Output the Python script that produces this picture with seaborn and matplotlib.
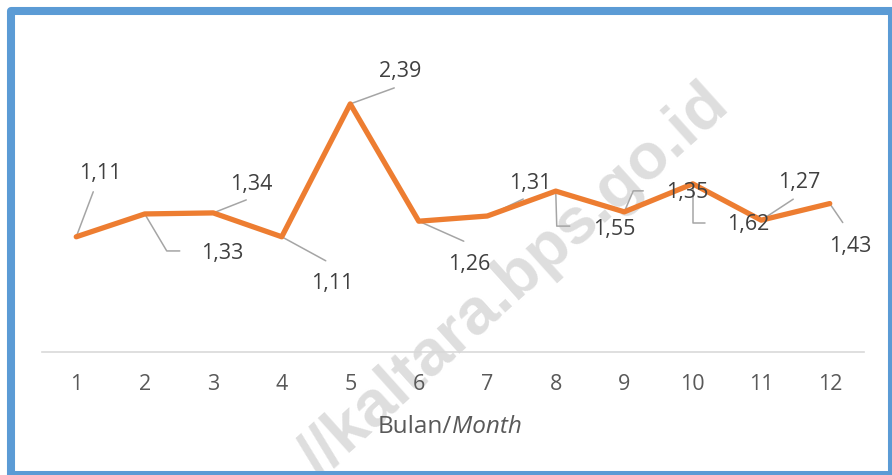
import matplotlib
matplotlib.use('Agg')
import matplotlib.pyplot as plt
import matplotlib.transforms as mtransforms
from matplotlib.lines import Line2D
from matplotlib.patches import Rectangle
import seaborn as sns

# Data (monthly values)
months = list(range(1, 13))
values = [1.11, 1.33, 1.34, 1.11, 2.39, 1.26, 1.31, 1.55, 1.35, 1.62, 1.27, 1.43]
month_labels = [str(m) for m in months]
value_labels = [f"{v:.2f}".replace('.', ',') for v in values]

# Label placement (pixel offsets from each point, y up) and leader line shapes
label_offsets = [(24, 65), (77, -38), (38, 30), (50, -45), (50, 34), (50, -41),
                 (43, 35), (58, -36), (63, 21), (55, -39), (38, 40), (20, -41)]
leader_paths = [
    [(0, 0), (17, 45)],
    [(0, 0), (22, -37), (35, -37)],
    [(0, 0), (33, 13)],
    [(0, 0), (44, -24)],
    [(0, 0), (44, 16)],
    [(0, 0), (45, -20)],
    [(0, 0), (36, 17)],
    [(0, 0), (1, -35), (14, -35)],
    [(0, 0), (9, 21), (19, 21)],
    [(0, 0), (0, -39), (12, -39)],
    [(0, 0), (32, 21)],
    [(0, 0), (13, -19)],
]

sns.set_style('white')
plt.rcParams['font.family'] = ['Open Sans', 'DejaVu Sans']

W, H = 892, 475
fig = plt.figure(figsize=(W / 100, H / 100), dpi=100)
ax = fig.add_axes([42 / W, (H - 352) / H, 822 / W, 311.4 / H])
ax.set_facecolor('none')

# watermark behind everything
fig.text(514 / W, 1 - 281 / H, '//kaltara.bps.go.id', rotation=42, rotation_mode='anchor',
         ha='center', va='center', fontsize=47, fontweight='bold', color='#DEDEDE',
         family='Liberation Sans', zorder=-1)

sns.lineplot(x=months, y=values, ax=ax, color='#ED7D31', linewidth=3.8,
             solid_joinstyle='round', solid_capstyle='round', zorder=3)

ax.set_xlim(0.5, 12.5)
ax.set_ylim(0, 3.0)
ax.set_xticks(months)
ax.set_xticklabels(month_labels)
ax.set_yticks([])
ax.set_xlabel('')
ax.set_ylabel('')
ax.tick_params(axis='x', length=0, pad=16, labelsize=15.5, labelcolor='#595959')
for s in ['top', 'left', 'right']:
    ax.spines[s].set_visible(False)
ax.spines['bottom'].set_color('#D9D9D9')
ax.spines['bottom'].set_linewidth(1.2)

# data labels with leader lines
for x, y, lab, off, path in zip(months, values, value_labels, label_offsets, leader_paths):
    tr = mtransforms.ScaledTranslation(x, y, ax.transData)
    px = [p[0] for p in path]
    py = [p[1] for p in path]
    ax.add_artist(Line2D(px, py, transform=tr, color='#A5A5A5', linewidth=1.1,
                         clip_on=False, zorder=2))
    ax.annotate(lab, xy=(x, y), xytext=(off[0], off[1] - 7.5), textcoords='offset pixels',
                ha='center', va='baseline', fontsize=15.5, color='#404040', zorder=4)

# axis title: "Bulan/" upright + "Month" italic
fig.text(452 / W, (H - 433) / H, 'Bulan/', ha='right', va='baseline',
         fontsize=17.5, color='#595959')
fig.text(452 / W, (H - 433) / H, 'Month', ha='left', va='baseline',
         fontsize=17.5, color='#595959', style='italic')

# blue frame
fig.add_artist(Rectangle((11 / W, 0), (892 - 11) / W, 464 / H, transform=fig.transFigure,
                         fill=False, edgecolor='#5B9BD5', linewidth=5.8,
                         joinstyle='round', clip_on=False))

fig.savefig('out.png', dpi=100)
